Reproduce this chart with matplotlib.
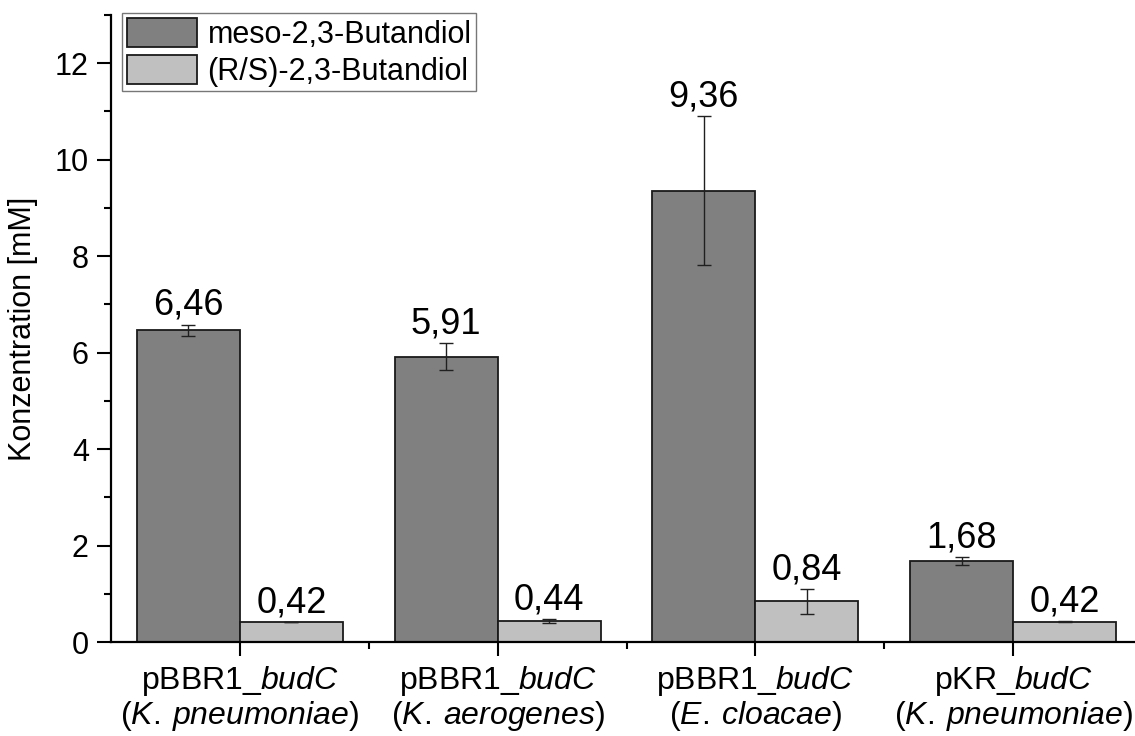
import matplotlib
matplotlib.use("Agg")
import matplotlib.pyplot as plt
import numpy as np
from matplotlib.ticker import MultipleLocator, FixedLocator

plt.rcParams['font.family'] = ['Liberation Sans', 'DejaVu Sans']
plt.rcParams['mathtext.fontset'] = 'custom'
plt.rcParams['mathtext.rm'] = 'Liberation Sans'
plt.rcParams['mathtext.it'] = 'Liberation Sans:italic'

categories = ["pBBR1_$\\mathit{budC}$\n($\\mathit{K.\\:pneumoniae}$)",
              "pBBR1_$\\mathit{budC}$\n($\\mathit{K.\\:aerogenes}$)",
              "pBBR1_$\\mathit{budC}$\n($\\mathit{E.\\:cloacae}$)",
              "pKR_$\\mathit{budC}$\n($\\mathit{K.\\:pneumoniae}$)"]
meso_vals = [6.46, 5.91, 9.36, 1.68]
meso_err = [0.12, 0.28, 1.54, 0.08]
rs_vals = [0.42, 0.44, 0.84, 0.42]
rs_err = [0.0, 0.04, 0.25, 0.01]
meso_labels = ["6,46", "5,91", "9,36", "1,68"]
rs_labels = ["0,42", "0,44", "0,84", "0,42"]
series_names = ["meso-2,3-Butandiol", "(R/S)-2,3-Butandiol"]

W, H = 1135, 736
fig = plt.figure(figsize=(W / 100, H / 100), dpi=100)
ax = fig.add_axes([111 / W, 1 - 642 / H, (1142 - 111) / W, (642 - 15) / H])

x = np.arange(1, len(categories) + 1)
bw = 0.4
ekw = dict(ecolor='#202020', elinewidth=1.0, capsize=5, capthick=1.0)
b1 = ax.bar(x - bw / 2, meso_vals, bw, yerr=meso_err, color='#808080',
            edgecolor='#1a1a1a', linewidth=1.3, error_kw=ekw, label=series_names[0], zorder=2)
b2 = ax.bar(x + bw / 2, rs_vals, bw, yerr=rs_err, color='#c0c0c0',
            edgecolor='#1a1a1a', linewidth=1.3, error_kw=ekw, label=series_names[1], zorder=2)

for xi, v, e, t in zip(x - bw / 2, meso_vals, meso_err, meso_labels):
    ax.annotate(t, (xi, v + e), xytext=(0, 7), textcoords='offset points',
                ha='center', va='baseline', fontsize=26)
for xi, v, e, t in zip(x + bw / 2, rs_vals, rs_err, rs_labels):
    ax.annotate(t, (xi, v + e), xytext=(0, 7), textcoords='offset points',
                ha='center', va='baseline', fontsize=26)

ax.set_xlim(0.5, 4.5)
ax.set_ylim(0, 13)
ax.set_xticks(x)
ax.set_xticklabels(categories, fontsize=23, linespacing=1.05)
ax.xaxis.set_minor_locator(FixedLocator([1.5, 2.5, 3.5]))
ax.yaxis.set_major_locator(MultipleLocator(2))
ax.yaxis.set_minor_locator(MultipleLocator(1))
ax.tick_params(axis='both', which='major', direction='out', length=10, width=1.5, labelsize=22)
ax.tick_params(axis='x', which='major', labelsize=23, length=10, pad=6)
ax.tick_params(axis='both', which='minor', direction='out', length=5, width=1.5)
ax.tick_params(axis='y', which='major', pad=6)
ax.set_ylabel("Konzentration [mM]", fontsize=22, labelpad=12)

for s in ['top', 'right']:
    ax.spines[s].set_visible(False)
for s in ['left', 'bottom']:
    ax.spines[s].set_linewidth(1.6)
ax.spines['bottom'].set_zorder(3)

leg = ax.legend(loc='upper left', bbox_to_anchor=(122 / W, 1 - 13 / H),
                bbox_transform=fig.transFigure, fontsize=22, frameon=True,
                fancybox=False, edgecolor='#555555', borderaxespad=0,
                borderpad=0.15, handlelength=2.3, handleheight=1.1,
                handletextpad=0.35, labelspacing=0.16)
leg.get_frame().set_linewidth(1.0)

fig.savefig("out.png", dpi=100)
